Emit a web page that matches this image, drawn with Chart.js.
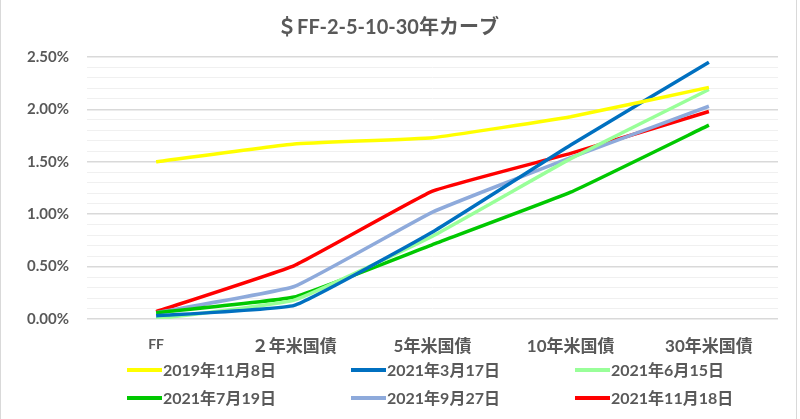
<!DOCTYPE html>
<html>
<head>
<meta charset="utf-8">
<script src="https://cdn.jsdelivr.net/npm/chart.js@4"></script>
<style>
  html, body { margin: 0; padding: 0; background: #fff; }
  #wrap { width: 800px; height: 419px; position: relative; }
  #wrap:before { content: ""; position: absolute; left: 0; top: 0; width: 797px; height: 419px;
    border-left: 1px solid #d9d9d9; border-right: 1px solid #d9d9d9; box-sizing: border-box; pointer-events: none; }
</style>
</head>
<body>
<div id="wrap"><canvas id="curveChart" width="800" height="419"></canvas></div>
<script>
// カテゴリ
const categories = ["FF", "２年米国債", "5年米国債", "10年米国債", "30年米国債"];

// 各日付の利回り (%)
const seriesNames = ["2019年11月8日", "2021年3月17日", "2021年6月15日", "2021年7月19日", "2021年9月27日", "2021年11月18日"];
const y20191108 = [1.50, 1.67, 1.73, 1.93, 2.21];
const y20210317 = [0.03, 0.13, 0.83, 1.66, 2.45];
const y20210615 = [0.00, 0.18, 0.79, 1.53, 2.19];
const y20210719 = [0.06, 0.21, 0.71, 1.21, 1.85];
const y20210927 = [0.06, 0.31, 1.02, 1.54, 2.03];
const y20211118 = [0.07, 0.51, 1.22, 1.58, 1.98];
const seriesColors = ["#ffff00", "#0070c0", "#99ff99", "#00c800", "#8eaadb", "#ff0000"];

const titleText = "＄FF-2-5-10-30年カーブ";
const FONT = "Lato, 'Noto Sans CJK JP', sans-serif";
const GREY = "#595959";

const allSeries = [y20191108, y20210317, y20210615, y20210719, y20210927, y20211118];

// タイトルと凡例を描くプラグイン
const titleLegend = {
  id: "titleLegend",
  afterDraw(chart) {
    const ctx = chart.ctx;
    ctx.save();
    ctx.fillStyle = GREY;
    ctx.font = "bold 20px " + FONT;
    ctx.textAlign = "center";
    ctx.textBaseline = "middle";
    ctx.fillText(titleText, 388, 28);

    ctx.font = "bold 16px " + FONT;
    ctx.textAlign = "left";
    chart.data.datasets.forEach((ds, i) => {
      const x0 = 127 + (i % 3) * 224;
      const y = 370 + Math.floor(i / 3) * 28;
      ctx.strokeStyle = ds.borderColor;
      ctx.lineWidth = 4;
      ctx.beginPath();
      ctx.moveTo(x0, y);
      ctx.lineTo(x0 + 35, y);
      ctx.stroke();
      ctx.fillStyle = GREY;
      ctx.fillText(ds.label, x0 + 36, y + 1);
    });
    ctx.restore();
  }
};

const ctx = document.getElementById("curveChart").getContext("2d");
new Chart(ctx, {
  type: "line",
  data: {
    labels: categories,
    datasets: allSeries.map((vals, i) => ({
      label: seriesNames[i],
      data: vals,
      borderColor: seriesColors[i],
      backgroundColor: seriesColors[i],
      borderWidth: 3.5,
      pointRadius: 0,
      tension: 0.1,
      fill: false,
    })),
  },
  options: {
    responsive: false,
    animation: false,
    layout: { padding: { left: 0, right: 22, top: 57, bottom: 0 } },
    plugins: {
      legend: { display: false },
      title: { display: false },
      tooltip: { enabled: false },
    },
    scales: {
      x: {
        offset: true,
        grid: { display: false, drawTicks: false },
        border: { display: false },
        afterFit(scale) { scale.height = 100; },
        ticks: {
          padding: 17,
          maxRotation: 0,
          color: GREY,
          font: (c) => c.index === 0
            ? { family: FONT, size: 14, weight: "bold" }
            : { family: FONT, size: 17, weight: "bold" },
        },
      },
      y: {
        min: 0,
        max: 2.5,
        afterFit(scale) { scale.width = 87; },
        border: { display: false },
        grid: {
          drawTicks: false,
          color: (c) => (Math.round(c.tick.value * 10) % 5 === 0 ? "#d9d9d9" : "#f0f0f0"),
          lineWidth: (c) => (Math.round(c.tick.value * 10) % 5 === 0 ? 1.5 : 1),
        },
        ticks: {
          stepSize: 0.1,
          padding: 18,
          autoSkip: false,
          color: GREY,
          font: { family: FONT, size: 15, weight: "bold" },
          callback: (v) => (Math.round(v * 10) % 5 === 0 ? v.toFixed(2) + "%" : ""),
        },
      },
    },
  },
  plugins: [titleLegend],
});
</script>
</body>
</html>
